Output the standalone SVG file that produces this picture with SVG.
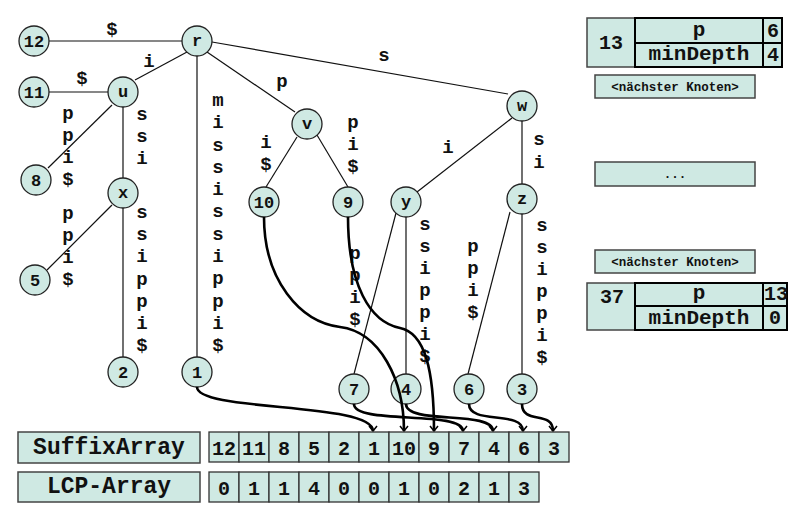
<svg xmlns="http://www.w3.org/2000/svg" width="794" height="510" viewBox="0 0 794 510">
<defs>
<style>
text{font-family:"Liberation Mono","Courier New",monospace;font-weight:bold;fill:#111;}
.nd circle{fill:#cfe9e3;stroke:#222;stroke-width:1.3;}
.nd text{font-size:17px;text-anchor:middle;}
.e line{stroke:#111;stroke-width:1.2;}
.lbl{font-size:19px;text-anchor:middle;}
.ptr path{fill:none;stroke:#000;stroke-width:2.6;}
.box{fill:#cfe9e3;stroke:#444;stroke-width:1.5;}
.tb{fill:none;stroke:#000;stroke-width:2;}
.cell{fill:#cfe9e3;stroke:#333;stroke-width:1.3;}
.big{font-size:23px;text-anchor:middle;}
.num{font-size:20px;text-anchor:middle;}
.small{font-size:12.5px;text-anchor:middle;}
</style>
<marker id="arr" markerWidth="12" markerHeight="12" refX="6" refY="6" orient="auto" markerUnits="userSpaceOnUse">
<path d="M1,2 L6,6 L1,10" fill="none" stroke="#000" stroke-width="1.5"/>
</marker>
</defs>
<rect width="794" height="510" fill="#fff"/>

<g id="edges" class="e">
<line x1="49" y1="41" x2="182" y2="41"/>
<line x1="187" y1="52" x2="135" y2="80"/>
<line x1="207" y1="52" x2="295" y2="112"/>
<line x1="212" y1="42" x2="508" y2="94"/>
<line x1="49" y1="92" x2="108" y2="92"/>
<line x1="112" y1="105" x2="48" y2="168"/>
<line x1="123" y1="107" x2="123" y2="178"/>
<line x1="197" y1="56" x2="197" y2="357"/>
<line x1="112" y1="205" x2="47" y2="270"/>
<line x1="123" y1="208" x2="123" y2="357"/>
<line x1="297" y1="137" x2="266" y2="187"/>
<line x1="317" y1="135" x2="348" y2="187"/>
<line x1="512" y1="118" x2="417" y2="192"/>
<line x1="522" y1="121" x2="522" y2="184"/>
<line x1="396" y1="213" x2="354" y2="374"/>
<line x1="406" y1="217" x2="406" y2="374"/>
<line x1="510" y1="212" x2="468" y2="374"/>
<line x1="522" y1="213" x2="522" y2="374"/>
</g>

<g id="edge-labels">
<text class="lbl" x="112" y="35">$</text>
<text class="lbl" x="149" y="67">i</text>
<text class="lbl" x="82" y="84">$</text>
<text class="lbl" x="282" y="87">p</text>
<text class="lbl" x="384" y="61">s</text>
<text class="lbl" x="448" y="153">i</text>
<text class="lbl"><tspan x="68" y="119">p</tspan><tspan x="68" y="141">p</tspan><tspan x="68" y="163">i</tspan><tspan x="68" y="185">$</tspan></text>
<text class="lbl"><tspan x="142" y="120">s</tspan><tspan x="142" y="142">s</tspan><tspan x="142" y="164">i</tspan></text>
<text class="lbl"><tspan x="218" y="106">m</tspan><tspan x="218" y="128">i</tspan><tspan x="218" y="151">s</tspan><tspan x="218" y="173">s</tspan><tspan x="218" y="195">i</tspan><tspan x="218" y="217">s</tspan><tspan x="218" y="240">s</tspan><tspan x="218" y="262">i</tspan><tspan x="218" y="284">p</tspan><tspan x="218" y="307">p</tspan><tspan x="218" y="329">i</tspan><tspan x="218" y="351">$</tspan></text>
<text class="lbl"><tspan x="68" y="219">p</tspan><tspan x="68" y="241">p</tspan><tspan x="68" y="263">i</tspan><tspan x="68" y="285">$</tspan></text>
<text class="lbl"><tspan x="142" y="218">s</tspan><tspan x="142" y="240">s</tspan><tspan x="142" y="262">i</tspan><tspan x="142" y="285">p</tspan><tspan x="142" y="307">p</tspan><tspan x="142" y="329">i</tspan><tspan x="142" y="351">$</tspan></text>
<text class="lbl"><tspan x="266" y="148">i</tspan><tspan x="266" y="170">$</tspan></text>
<text class="lbl"><tspan x="353" y="128">p</tspan><tspan x="353" y="150">i</tspan><tspan x="353" y="172">$</tspan></text>
<text class="lbl"><tspan x="539" y="145">s</tspan><tspan x="539" y="168">i</tspan></text>
<text class="lbl"><tspan x="355" y="259">p</tspan><tspan x="355" y="281">p</tspan><tspan x="355" y="303">i</tspan><tspan x="355" y="325">$</tspan></text>
<text class="lbl"><tspan x="425" y="230">s</tspan><tspan x="425" y="252">s</tspan><tspan x="425" y="274">i</tspan><tspan x="425" y="296">p</tspan><tspan x="425" y="318">p</tspan><tspan x="425" y="340">i</tspan><tspan x="425" y="362">$</tspan></text>
<text class="lbl"><tspan x="473" y="252">p</tspan><tspan x="473" y="274">p</tspan><tspan x="473" y="296">i</tspan><tspan x="473" y="318">$</tspan></text>
<text class="lbl"><tspan x="542" y="231">s</tspan><tspan x="542" y="253">s</tspan><tspan x="542" y="275">i</tspan><tspan x="542" y="297">p</tspan><tspan x="542" y="319">p</tspan><tspan x="542" y="341">i</tspan><tspan x="542" y="363">$</tspan></text>
</g>

<g id="node-12" class="nd"><circle cx="34" cy="41" r="15"/><text x="34" y="47">12</text></g>
<g id="node-r" class="nd"><circle cx="197" cy="41" r="15"/><text x="197" y="46">r</text></g>
<g id="node-11" class="nd"><circle cx="34" cy="92" r="15"/><text x="34" y="98">11</text></g>
<g id="node-u" class="nd"><circle cx="123" cy="92" r="15"/><text x="123" y="97">u</text></g>
<g id="node-8" class="nd"><circle cx="36" cy="180" r="15"/><text x="36" y="186">8</text></g>
<g id="node-x" class="nd"><circle cx="123" cy="193" r="15"/><text x="123" y="198">x</text></g>
<g id="node-5" class="nd"><circle cx="35" cy="280" r="15"/><text x="35" y="286">5</text></g>
<g id="node-2" class="nd"><circle cx="123" cy="372" r="15"/><text x="123" y="378">2</text></g>
<g id="node-1" class="nd"><circle cx="197" cy="372" r="15"/><text x="197" y="378">1</text></g>
<g id="node-v" class="nd"><circle cx="307" cy="124" r="15"/><text x="307" y="129">v</text></g>
<g id="node-10" class="nd"><circle cx="264" cy="202" r="15"/><text x="264" y="208">10</text></g>
<g id="node-9" class="nd"><circle cx="348" cy="202" r="15"/><text x="348" y="208">9</text></g>
<g id="node-w" class="nd"><circle cx="522" cy="106" r="15"/><text x="522" y="111">w</text></g>
<g id="node-y" class="nd"><circle cx="406" cy="202" r="15"/><text x="406" y="207">y</text></g>
<g id="node-z" class="nd"><circle cx="522" cy="199" r="15"/><text x="522" y="204">z</text></g>
<g id="node-7" class="nd"><circle cx="354" cy="389" r="15"/><text x="354" y="395">7</text></g>
<g id="node-4" class="nd"><circle cx="406" cy="389" r="15"/><text x="406" y="395">4</text></g>
<g id="node-6" class="nd"><circle cx="469" cy="389" r="15"/><text x="469" y="395">6</text></g>
<g id="node-3" class="nd"><circle cx="522" cy="389" r="15"/><text x="522" y="395">3</text></g>

<g id="pointers" class="ptr">
<path d="M197,387 C197,412 373,402 373,431" marker-end="url(#arr)"/>
<path d="M264,217 C264,280 300,322 340,327 C380,332 404,380 404,431" marker-end="url(#arr)"/>
<path d="M348,217 C348,285 370,322 400,328 C425,333 434,370 434,431" marker-end="url(#arr)"/>
<path d="M354,404 C354,425 463,410 463,431" marker-end="url(#arr)"/>
<path d="M406,404 C406,425 493,410 493,431" marker-end="url(#arr)"/>
<path d="M469,404 C469,425 523,410 523,431" marker-end="url(#arr)"/>
<path d="M522,404 C522,425 553,410 553,431" marker-end="url(#arr)"/>
</g>

<g id="entry-13">
<rect class="box" x="587" y="18" width="48" height="49"/>
<rect class="box" x="635" y="18" width="147" height="49" style="stroke:none"/>
<path class="tb" d="M635,18 H782 V67 H635 Z M635,43 H782 M763,18 V67"/>
<text class="num" x="611" y="49">13</text>
<text class="num" style="font-size:21px" x="699" y="36">p</text>
<text class="num" style="font-size:21px" x="699" y="60">minDepth</text>
<text class="num" x="773" y="37">6</text>
<text class="num" x="773" y="61">4</text>
</g>

<g id="next-1">
<rect class="box" x="595" y="75" width="160" height="23"/>
<text class="small" x="675" y="91">&lt;nächster Knoten&gt;</text>
</g>

<g id="dots">
<rect class="box" x="595" y="162" width="160" height="24"/>
<text class="small" x="675" y="178">...</text>
</g>

<g id="next-2">
<rect class="box" x="595" y="250" width="160" height="23"/>
<text class="small" x="675" y="266">&lt;nächster Knoten&gt;</text>
</g>

<g id="entry-37">
<rect class="box" x="587" y="283" width="48" height="47"/>
<rect class="box" x="635" y="283" width="152" height="47" style="stroke:none"/>
<path class="tb" d="M635,283 H787 V330 H635 Z M635,306 H787 M763,283 V330"/>
<text class="num" x="612" y="303">37</text>
<text class="num" style="font-size:21px" x="699" y="299">p</text>
<text class="num" style="font-size:21px" x="699" y="324">minDepth</text>
<text class="num" x="776" y="300">13</text>
<text class="num" x="775" y="324">0</text>
</g>

<g id="suffix-array">
<rect class="box" x="18" y="432" width="182" height="31"/>
<text class="big" x="109" y="454">SuffixArray</text>
<g class="num">
<rect class="cell" x="209" y="432" width="30" height="30"/><text x="224" y="455">12</text>
<rect class="cell" x="239" y="432" width="30" height="30"/><text x="254" y="455">11</text>
<rect class="cell" x="269" y="432" width="30" height="30"/><text x="284" y="455">8</text>
<rect class="cell" x="299" y="432" width="30" height="30"/><text x="314" y="455">5</text>
<rect class="cell" x="329" y="432" width="30" height="30"/><text x="344" y="455">2</text>
<rect class="cell" x="359" y="432" width="30" height="30"/><text x="374" y="455">1</text>
<rect class="cell" x="389" y="432" width="30" height="30"/><text x="404" y="455">10</text>
<rect class="cell" x="419" y="432" width="30" height="30"/><text x="434" y="455">9</text>
<rect class="cell" x="449" y="432" width="30" height="30"/><text x="464" y="455">7</text>
<rect class="cell" x="479" y="432" width="30" height="30"/><text x="494" y="455">4</text>
<rect class="cell" x="509" y="432" width="30" height="30"/><text x="524" y="455">6</text>
<rect class="cell" x="539" y="432" width="30" height="30"/><text x="554" y="455">3</text>
</g>
</g>

<g id="lcp-array">
<rect class="box" x="18" y="472" width="182" height="30"/>
<text class="big" x="109" y="493">LCP-Array</text>
<g class="num">
<rect class="cell" x="209" y="472" width="30" height="30"/><text x="224" y="495">0</text>
<rect class="cell" x="239" y="472" width="30" height="30"/><text x="254" y="495">1</text>
<rect class="cell" x="269" y="472" width="30" height="30"/><text x="284" y="495">1</text>
<rect class="cell" x="299" y="472" width="30" height="30"/><text x="314" y="495">4</text>
<rect class="cell" x="329" y="472" width="30" height="30"/><text x="344" y="495">0</text>
<rect class="cell" x="359" y="472" width="30" height="30"/><text x="374" y="495">0</text>
<rect class="cell" x="389" y="472" width="30" height="30"/><text x="404" y="495">1</text>
<rect class="cell" x="419" y="472" width="30" height="30"/><text x="434" y="495">0</text>
<rect class="cell" x="449" y="472" width="30" height="30"/><text x="464" y="495">2</text>
<rect class="cell" x="479" y="472" width="30" height="30"/><text x="494" y="495">1</text>
<rect class="cell" x="509" y="472" width="30" height="30"/><text x="524" y="495">3</text>
</g>
</g>
</svg>
